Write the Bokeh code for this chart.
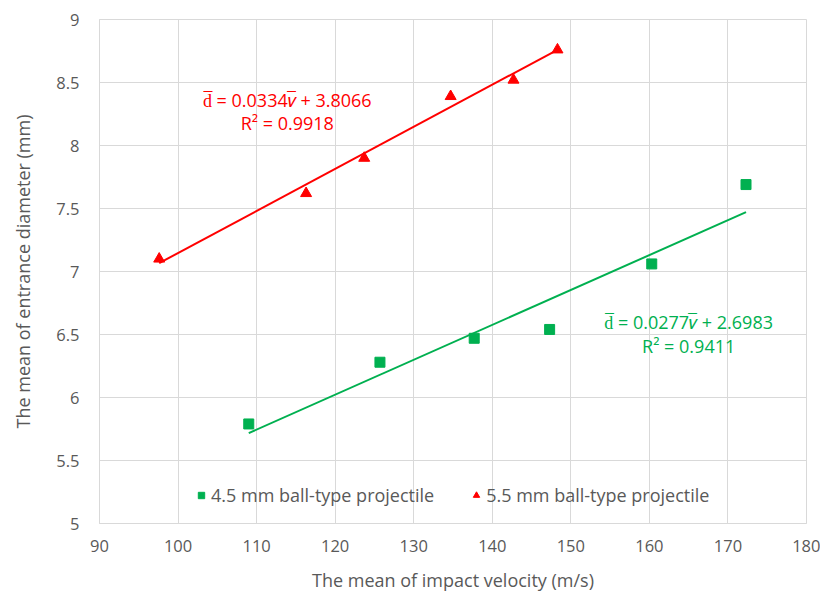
from bokeh.plotting import figure
from bokeh.models import Range1d, FixedTicker, Legend, LegendItem, Label
from bokeh.embed import file_html
from bokeh.resources import INLINE

# ---- data ----
v_45 = [109.0, 125.7, 137.7, 147.3, 160.3, 172.3]
d_45 = [5.79, 6.28, 6.47, 6.54, 7.06, 7.69]
v_55 = [97.6, 116.3, 123.7, 134.7, 142.7, 148.3]
d_55 = [7.10, 7.62, 7.90, 8.39, 8.52, 8.76]
fit_45 = (0.0277, 2.6983)
fit_55 = (0.0334, 3.8066)
eq_45 = ["d\u0305 = 0.0277\U0001D463\u0305 + 2.6983", "R\u00b2 = 0.9411"]
eq_55 = ["d\u0305 = 0.0334\U0001D463\u0305 + 3.8066", "R\u00b2 = 0.9918"]
x_ticks = [90, 100, 110, 120, 130, 140, 150, 160, 170, 180]
y_ticks = [5, 5.5, 6, 6.5, 7, 7.5, 8, 8.5, 9]
y_tick_labels = ["5", "5.5", "6", "6.5", "7", "7.5", "8", "8.5", "9"]
series_names = ["4.5 mm ball-type projectile", "5.5 mm ball-type projectile"]

GREEN = "#00B050"
RED = "#FF0000"
GRAY = "#595959"
GRID = "#D9D9D9"
FONT = "Open Sans"

p = figure(width=820, height=597, output_backend="svg", toolbar_location=None,
           x_range=Range1d(90, 180), y_range=Range1d(5, 9),
           min_border_left=99, min_border_right=14, min_border_top=19, min_border_bottom=74)

p.background_fill_color = "white"
p.border_fill_color = "white"
p.outline_line_color = GRID

for ax in (p.xaxis, p.yaxis):
    ax.axis_line_color = GRID
    ax.major_tick_line_color = None
    ax.minor_tick_line_color = None
    ax.major_label_text_color = GRAY
    ax.major_label_text_font = FONT
    ax.major_label_text_font_size = "16.5px"
    ax.axis_label_text_color = GRAY
    ax.axis_label_text_font = FONT
    ax.axis_label_text_font_size = "18px"
    ax.axis_label_text_font_style = "normal"

p.xaxis.ticker = FixedTicker(ticks=x_ticks)
p.yaxis.ticker = FixedTicker(ticks=y_ticks)
p.yaxis.major_label_overrides = {t: s for t, s in zip(y_ticks, y_tick_labels)}
p.xaxis.axis_label = "The mean of impact velocity (m/s)"
p.yaxis.axis_label = "The mean of entrance diameter (mm)"
p.xaxis.major_label_standoff = 10
p.xaxis.axis_label_standoff = 13
p.yaxis.major_label_standoff = 14
p.yaxis.axis_label_standoff = 18

p.xgrid.grid_line_color = GRID
p.ygrid.grid_line_color = GRID
p.xgrid.grid_line_width = 1
p.ygrid.grid_line_width = 1

# trendlines over the data range
x45 = [min(v_45), max(v_45)]
x55 = [min(v_55), max(v_55)]
p.line(x45, [fit_45[0] * x + fit_45[1] for x in x45], line_color=GREEN, line_width=2)
p.line(x55, [fit_55[0] * x + fit_55[1] for x in x55], line_color=RED, line_width=2)

r45 = p.scatter(v_45, d_45, marker="square", size=10, fill_color=GREEN, line_color=GREEN)
r55 = p.scatter(v_55, d_55, marker="triangle", size=11, fill_color=RED, line_color=RED)

legend = Legend(items=[LegendItem(label=series_names[0], renderers=[r45]),
                       LegendItem(label=series_names[1], renderers=[r55])],
                orientation="horizontal", location=(94, 16),
                background_fill_alpha=0, border_line_color=None,
                label_text_font=FONT, label_text_font_size="18px",
                label_text_color=GRAY, glyph_width=16, glyph_height=16,
                spacing=34, padding=0, margin=0, label_standoff=2)
p.add_layout(legend, "center")

for txt, yy in zip(eq_55, [8.36, 8.18]):
    p.add_layout(Label(x=113.9, y=yy, text=txt, text_align="center", text_baseline="middle",
                       text_color=RED, text_font=FONT, text_font_size="18px"))
for txt, yy in zip(eq_45, [6.60, 6.41]):
    p.add_layout(Label(x=165.0, y=yy, text=txt, text_align="center", text_baseline="middle",
                       text_color=GREEN, text_font=FONT, text_font_size="18px"))

open("out.html", "w").write(file_html(p, INLINE))
